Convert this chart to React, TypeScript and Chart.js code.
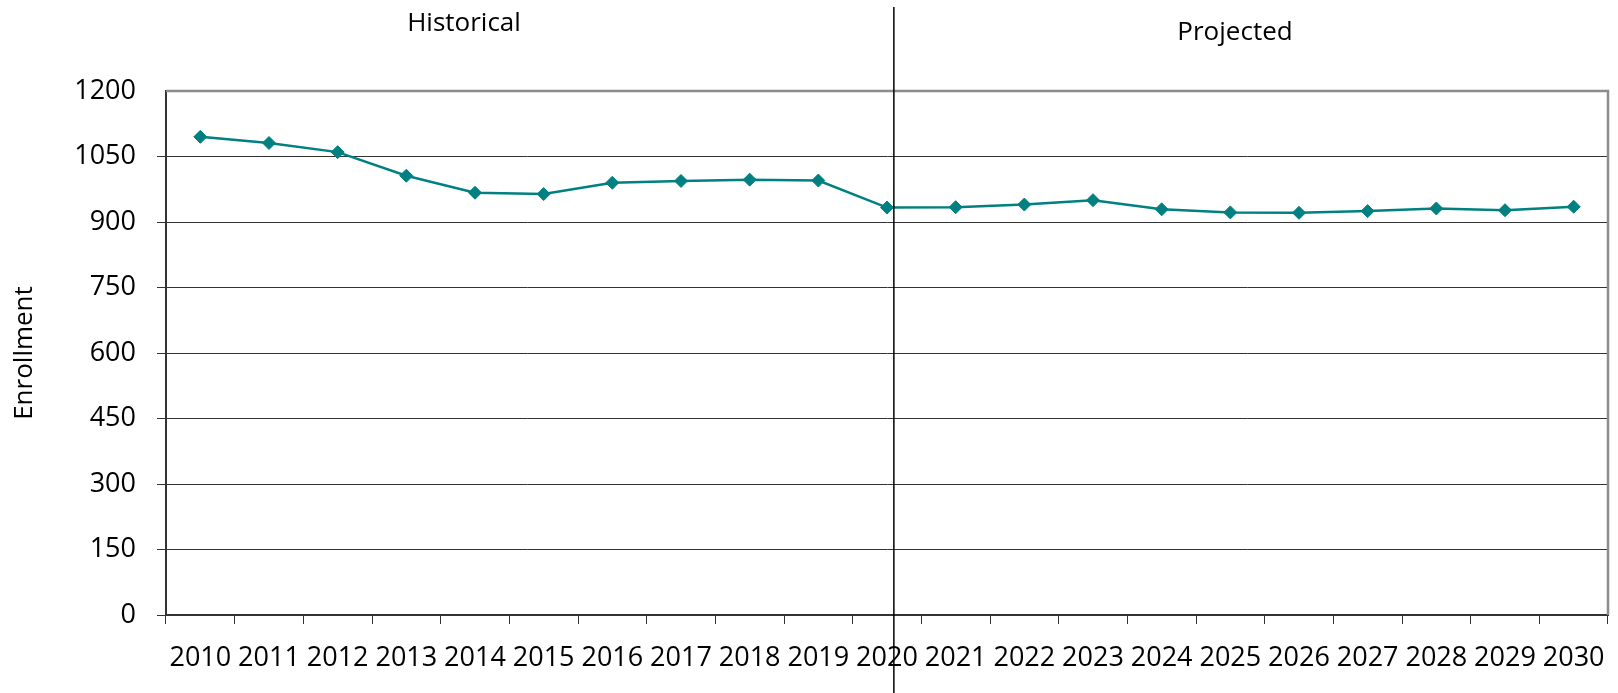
import React, { useEffect, useRef } from "react";
import { Chart, registerables } from "chart.js";

Chart.register(...registerables);

// Enrollment by school year, 2010-2020 actual and 2021-2030 projected
const years = [
  "2010", "2011", "2012", "2013", "2014", "2015", "2016", "2017", "2018", "2019", "2020",
  "2021", "2022", "2023", "2024", "2025", "2026", "2027", "2028", "2029", "2030",
];
const enrollment = [
  1095, 1081, 1060, 1006, 967, 964, 990, 994, 997, 995, 933,
  934, 940, 950, 929, 922, 921, 925, 931, 927, 935,
];
const yMin = 0;
const yMax = 1200;
const yStep = 150;

// Historical / projected split sits just past the 2020 point
const DIVIDER_AT = 10.1;
const historicalLabel = "Historical";
const projectedLabel = "Projected";
const axisTitle = "Enrollment";

const FONT = "'Open Sans', 'Noto Sans', sans-serif";
const TEAL = "#008080";

const frameAndNotes = {
  id: "frameAndNotes",
  beforeDatasetsDraw(chart: any) {
    const { ctx, chartArea } = chart;
    ctx.save();
    // grey frame along the top and right edges of the plot
    ctx.strokeStyle = "#8c8c8c";
    ctx.lineWidth = 2.5;
    ctx.beginPath();
    ctx.moveTo(chartArea.left, chartArea.top);
    ctx.lineTo(chartArea.right, chartArea.top);
    ctx.lineTo(chartArea.right, chartArea.bottom);
    ctx.stroke();
    ctx.restore();
  },
  afterDraw(chart: any) {
    const { ctx } = chart;
    const x = chart.scales.x.getPixelForValue(DIVIDER_AT);
    ctx.save();
    ctx.strokeStyle = "#000000";
    ctx.lineWidth = 1.5;
    ctx.beginPath();
    ctx.moveTo(x, 7);
    ctx.lineTo(x, chart.height);
    ctx.stroke();

    ctx.fillStyle = "#000000";
    ctx.font = `26px ${FONT}`;
    ctx.textAlign = "center";
    ctx.textBaseline = "alphabetic";
    ctx.fillText(historicalLabel, 464, 30.5);
    ctx.fillText(projectedLabel, 1235, 39.5);
    ctx.restore();
  },
};

export default function App() {
  const canvasRef = useRef<HTMLCanvasElement | null>(null);

  useEffect(() => {
    if (!canvasRef.current) return;
    const chart = new Chart(canvasRef.current, {
      type: "line",
      data: {
        labels: years,
        datasets: [
          {
            label: axisTitle,
            data: enrollment,
            borderColor: TEAL,
            backgroundColor: TEAL,
            borderWidth: 2.5,
            pointStyle: "rectRot",
            pointRadius: 6.5,
            pointBackgroundColor: TEAL,
            pointBorderColor: TEAL,
            pointBorderWidth: 1,
            tension: 0,
          },
        ],
      },
      options: {
        animation: false,
        responsive: false,
        devicePixelRatio: 1,
        layout: { padding: { left: 0, top: 91, right: 10, bottom: 0 } },
        plugins: {
          legend: { display: false },
          tooltip: { enabled: false },
        },
        scales: {
          x: {
            type: "category",
            offset: true,
            border: { color: "#333333", width: 2 },
            grid: {
              offset: true,
              drawOnChartArea: false,
              drawTicks: true,
              tickLength: 9,
              color: "#333333",
              lineWidth: 1,
            },
            ticks: {
              color: "#000000",
              font: { family: FONT, size: 27 },
              padding: 18,
              maxRotation: 0,
              autoSkip: false,
            },
            afterFit(scale: any) {
              scale.height = 78;
              scale.paddingLeft = 0;
              scale.paddingRight = 0;
            },
          },
          y: {
            min: yMin,
            max: yMax,
            border: { color: "#333333", width: 2 },
            grid: {
              drawTicks: true,
              tickLength: 9,
              color: (c: any) => (c.tick && c.tick.value === yMax ? "rgba(0,0,0,0)" : "#333333"),
              lineWidth: 1,
            },
            ticks: {
              stepSize: yStep,
              color: "#000000",
              font: { family: FONT, size: 27 },
              padding: 21,
              callback: (v: any) => String(v),
            },
            title: {
              display: true,
              text: axisTitle,
              color: "#000000",
              font: { family: FONT, size: 26 },
              padding: { top: 9, bottom: 0 },
            },
            afterFit(scale: any) {
              scale.width = 166;
            },
          },
        },
      },
      plugins: [frameAndNotes],
    });
    return () => chart.destroy();
  }, []);

  return (
    <div style={{ position: "absolute", left: 0, top: 0, width: 1618, height: 693, background: "#ffffff" }}>
      <canvas ref={canvasRef} width={1618} height={693} />
    </div>
  );
}
